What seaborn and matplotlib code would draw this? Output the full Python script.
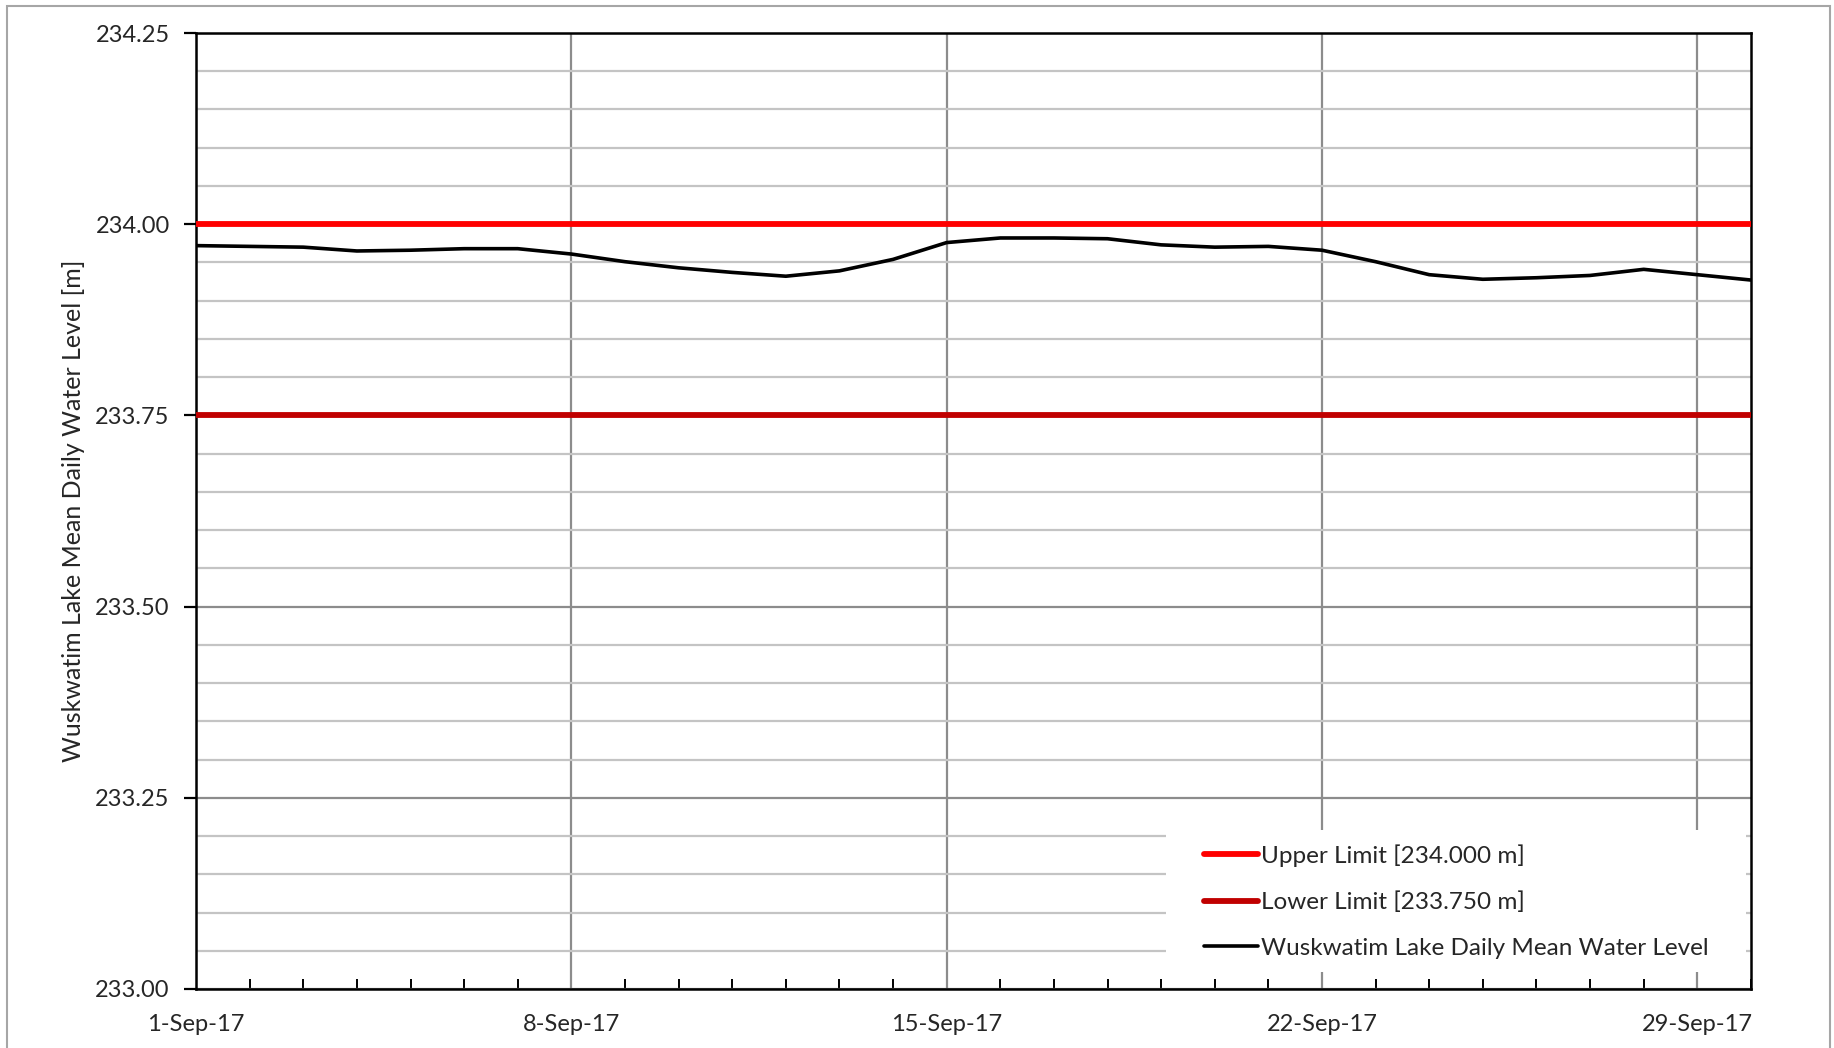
import matplotlib
matplotlib.use("Agg")
import matplotlib.pyplot as plt
import matplotlib.dates as mdates
from matplotlib.patches import Rectangle
from matplotlib.ticker import MultipleLocator
import seaborn as sns
import pandas as pd

# September 2017 daily mean water levels
days = list(range(1, 31))
levels = [233.972, 233.971, 233.970, 233.965, 233.966, 233.968, 233.968, 233.961,
          233.951, 233.943, 233.937, 233.932, 233.939, 233.954, 233.976, 233.982,
          233.982, 233.981, 233.973, 233.970, 233.971, 233.966, 233.951, 233.934,
          233.928, 233.930, 233.933, 233.941, 233.934, 233.927]
upper_limit = 234.000
lower_limit = 233.750

series_label = "Wuskwatim Lake Daily Mean Water Level"
upper_label = "Upper Limit [234.000 m]"
lower_label = "Lower Limit [233.750 m]"
y_label = "Wuskwatim Lake Mean Daily Water Level [m]"

df = pd.DataFrame({
    "date": pd.to_datetime([f"2017-09-{d:02d}" for d in days]),
    "level": levels,
})

sns.set_theme(style="white")
plt.rcParams["font.family"] = ["Lato", "DejaVu Sans"]

fig = plt.figure(figsize=(18.34, 10.48), dpi=100)
fig.patches.append(Rectangle((0.0038, -0.05), 0.9942, 1.0445, transform=fig.transFigure,
                             fill=False, edgecolor="#a6a6a6", linewidth=1.5))
ax = fig.add_axes([0.1069, 0.0563, 0.8478, 0.9122])

ax.axhline(upper_limit, color="#ff0000", linewidth=4.2, label=upper_label, zorder=3)
ax.axhline(lower_limit, color="#c00000", linewidth=4.2, label=lower_label, zorder=3)
sns.lineplot(data=df, x="date", y="level", color="black", linewidth=2.6,
             label=series_label, ax=ax, zorder=4)

ax.set_xlim(df["date"].iloc[0], df["date"].iloc[-1])
ax.set_ylim(233.0, 234.25)

ax.xaxis.set_major_locator(mdates.DayLocator(bymonthday=[1, 8, 15, 22, 29]))
ax.xaxis.set_minor_locator(mdates.DayLocator())
ax.xaxis.set_major_formatter(mdates.DateFormatter("%-d-%b-%y"))
ax.yaxis.set_major_locator(MultipleLocator(0.25))
ax.yaxis.set_minor_locator(MultipleLocator(0.05))
ax.yaxis.set_major_formatter(matplotlib.ticker.FormatStrFormatter("%.2f"))

ax.set_axisbelow(True)
ax.grid(which="major", color="#8c8c8c", linewidth=1.6)
ax.grid(which="minor", axis="y", color="#c4c4c4", linewidth=1.6)

for side in ["left", "right", "top", "bottom"]:
    ax.spines[side].set_color("black")
    ax.spines[side].set_linewidth(1.8)

ax.tick_params(axis="x", which="major", direction="out", length=7, width=1.6,
               color="black", labelsize=17, pad=11)
ax.tick_params(axis="x", which="minor", direction="in", length=7, width=1.4,
               color="black", bottom=True)
ax.tick_params(axis="y", which="major", direction="out", length=9, width=1.6,
               color="black", labelsize=17, pad=10, left=True)
ax.tick_params(axis="y", which="minor", left=False)

ax.set_xlabel("")
ax.set_ylabel(y_label, fontsize=18, labelpad=7)

# white legend area like the Excel chart
ax.add_patch(Rectangle((0.624, 0.0178), 0.373, 0.149, transform=ax.transAxes,
                       facecolor="white", edgecolor="none", zorder=1))
leg = ax.legend(loc="center left", bbox_to_anchor=(0.6485, 0.0915), frameon=False,
                fontsize=17.5, handlelength=2.2, handletextpad=0.12, labelspacing=1.02,
                borderpad=0.0, borderaxespad=0.0)
for line in leg.get_lines():
    line.set_linewidth(4.2 if line.get_color() != "black" else 2.6)
    line.set_solid_capstyle("round")

fig.savefig("out.png", dpi=100)
plt.close(fig)
